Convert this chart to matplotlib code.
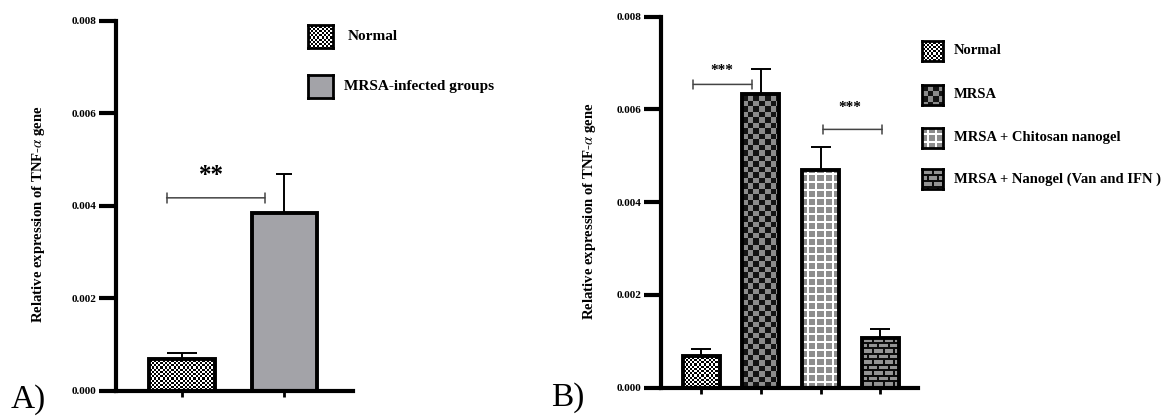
import matplotlib
matplotlib.use("Agg")
import matplotlib.pyplot as plt
import numpy as np

plt.rcParams['font.family'] = ['Liberation Serif', 'DejaVu Serif']
plt.rcParams['mathtext.fontset'] = 'stix'

# ---- data ----
groups_a = ['Normal', 'MRSA-infected groups']
means_a = [0.00069, 0.00385]
errs_a = [0.00013, 0.00084]

groups_b = ['Normal', 'MRSA', 'MRSA + Chitosan nanogel', 'MRSA + Nanogel (Van and IFN )']
means_b = [0.00069, 0.00634, 0.00470, 0.00107]
errs_b = [0.00014, 0.00053, 0.00050, 0.00020]

yticks = [0.000, 0.002, 0.004, 0.006, 0.008]

W, H = 1174, 416
fig = plt.figure(figsize=(W / 100, H / 100), dpi=100)


def texture(kind, w, h):
    yy, xx = np.mgrid[0:h, 0:w].astype(float)
    img = np.ones((h, w, 3))
    black = np.zeros(3)
    if kind == 'fine':
        m = (np.floor(xx / 2.2) + np.floor(yy / 2.2)) % 2 == 0
        img[:] = black
        img[m] = 1.0
    elif kind == 'check':
        m = (np.floor(xx / 5.5) + np.floor(yy / 5.5)) % 2 == 0
        img[:] = 0.55
        img[m] = 0.08
    elif kind == 'grid':
        img[:] = 0.56
        m = ((xx + 3) % 8 < 1.6) | ((yy + 3) % 8 < 1.6)
        img[m] = 1.0
    elif kind == 'brick':
        img[:] = 0.58
        row = np.floor(yy / 5.5)
        off = (row % 2) * 5
        m = (yy % 5.5 < 1.6) | ((xx + off) % 10 < 1.6)
        img[m] = 0.05
    else:
        img[:] = [0.64, 0.64, 0.66]
    return img


def textured_bars(ax, xs, vals, kinds, width):
    ax.set_autoscale_on(False)
    bars = ax.bar(xs, vals, width=width, facecolor='none', edgecolor='black',
                  linewidth=2.8, zorder=3)
    for b, k in zip(bars, kinds):
        x0, x1 = b.get_x(), b.get_x() + b.get_width()
        p0 = ax.transData.transform((x0, 0))
        p1 = ax.transData.transform((x1, b.get_height()))
        wpx = max(int(round(p1[0] - p0[0])), 1)
        hpx = max(int(round(p1[1] - p0[1])), 1)
        ax.imshow(texture(k, wpx, hpx), extent=(x0, x1, 0, b.get_height()),
                  origin='lower', aspect='auto', interpolation='nearest', zorder=2)
    return bars


def style_axis(ax):
    for s in ['top', 'right']:
        ax.spines[s].set_visible(False)
    for s in ['left', 'bottom']:
        ax.spines[s].set_linewidth(3)
    ax.set_ylim(0, 0.008)
    ax.set_yticks(yticks)
    ax.set_yticklabels(['%.3f' % v for v in yticks], fontsize=8, fontweight='bold')
    ax.tick_params(axis='y', length=12, width=3, pad=2)
    ax.tick_params(axis='x', length=4, width=2, labelbottom=False)
    ax.set_ylabel('Relative expression of TNF-$\\alpha$ gene', fontsize=10.6, fontweight='bold')


def sig(ax, x0, x1, y, label, tx, ty, fs):
    ax.annotate('', xy=(x1, y), xytext=(x0, y),
                arrowprops=dict(arrowstyle='|-|,widthA=0.35,widthB=0.35', lw=1.1,
                                color='#444444', shrinkA=0, shrinkB=0))
    ax.text(tx, ty, label, ha='center', va='center', fontsize=fs, fontweight='bold')


def legend_box(x, y, w, h, kind, label, tx, fs):
    lax = fig.add_axes([x / W, 1 - (y + h) / H, w / W, h / H])
    lax.imshow(texture(kind, w, h), aspect='auto', interpolation='nearest')
    lax.set_xticks([])
    lax.set_yticks([])
    for s in lax.spines.values():
        s.set_linewidth(2)
    fig.text(tx / W, 1 - (y + h / 2) / H, label, fontsize=fs, fontweight='bold',
             ha='left', va='center')


# ---- panel A ----
axA = fig.add_axes([116 / W, 25.3 / H, 237 / W, 370 / H])
xa = np.arange(len(means_a))
axA.set_xlim(-0.644, 1.67)
style_axis(axA)
textured_bars(axA, xa, means_a, ['fine', 'solid'], 0.64)
for x, m, e, cs in zip(xa, means_a, errs_a, [11, 6]):
    axA.errorbar(x, m, yerr=[[0], [e]], fmt='none', ecolor='black', elinewidth=1.4,
                 capsize=cs, capthick=1.4, zorder=4)
axA.set_xticks(xa)
axA.yaxis.set_label_coords(-0.29, 0.476)
sig(axA, -0.15, 0.81, 0.00417, '**', 0.29, 0.00466, 18)

# ---- panel B ----
axB = fig.add_axes([661 / W, 28.3 / H, 257 / W, 371 / H])
xb = np.arange(len(means_b))
axB.set_xlim(-0.67, 3.63)
style_axis(axB)
textured_bars(axB, xb, means_b, ['fine', 'check', 'grid', 'brick'], 0.62)
axB.errorbar(xb, means_b, yerr=[np.zeros(len(errs_b)), errs_b], fmt='none', ecolor='black',
             elinewidth=1.4, capsize=7, capthick=1.4, zorder=4)
axB.set_xticks(xb)
axB.yaxis.set_label_coords(-0.245, 0.476)
sig(axB, -0.13, 0.85, 0.00654, '***', 0.35, 0.00685, 11)
sig(axB, 2.04, 3.03, 0.00557, '***', 2.49, 0.00605, 11)

# ---- legends ----
legend_box(308, 25, 25, 23, 'fine', groups_a[0], 348, 11)
legend_box(308, 75, 25, 23, 'solid', groups_a[1], 344, 11)
for (yc, kind, lab) in zip([51, 95, 138, 179], ['fine', 'check', 'grid', 'brick'], groups_b):
    legend_box(922, yc - 10, 21, 20, kind, lab, 954, 10.5)

fig.text(28 / W, 1 - 400 / H, 'A)', fontsize=24, ha='center', va='center')
fig.text(568 / W, 1 - 398 / H, 'B)', fontsize=24, ha='center', va='center')

fig.savefig('out.png', dpi=100)
